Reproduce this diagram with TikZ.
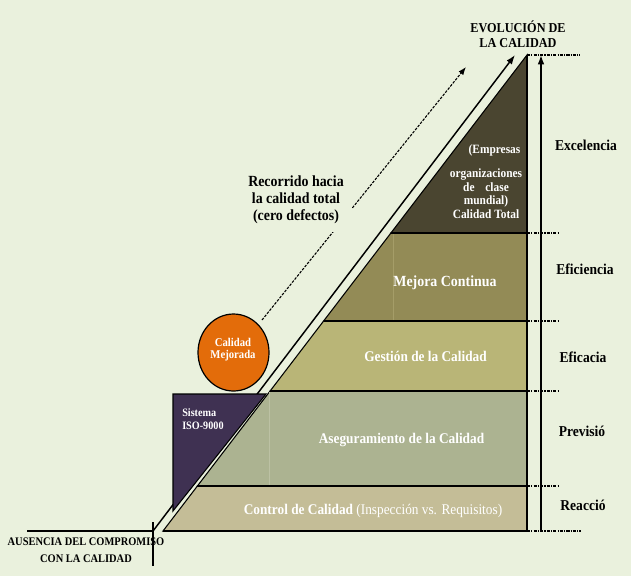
\documentclass[tikz,border=0pt]{standalone}
\usepackage{fontspec}
\setmainfont{Liberation Serif}[FakeStretch=0.9]
\usetikzlibrary{arrows.meta,shapes.geometric}
\definecolor{bg}{HTML}{EAF1DD}
\definecolor{cControl}{HTML}{C4BD97}
\definecolor{cAseg}{HTML}{ACB391}
\definecolor{cGest}{HTML}{B9B577}
\definecolor{cMejora}{HTML}{938B56}
\definecolor{cExcel}{HTML}{4A4530}
\definecolor{cIso}{HTML}{3F3152}
\definecolor{cOrange}{HTML}{E36C0A}
\definecolor{cSeamA}{HTML}{BCC1A4}
\definecolor{cSeamM}{HTML}{A59D68}
\begin{document}
\begin{tikzpicture}[x=0.75pt,y=-0.75pt,
  layer/.style={draw=black,line width=0.8pt},
  wtext/.style={text=white,inner sep=0pt},
  btext/.style={text=black,inner sep=0pt},
  ticks/.style={line width=0.9pt,dash pattern=on 2.5pt off 0.8pt on 0.8pt off 0.8pt},
  arr/.style={line width=1.1pt,-{Latex[length=7pt,width=5pt]}},
  dasharr/.style={line width=0.8pt,dash pattern=on 2pt off 1pt,-{Latex[length=6pt,width=4.5pt]}}
]
\fill[bg] (0,0) rectangle (631,576);
\useasboundingbox (0,0) rectangle (631,576);

% dashed route arrow
\coordinate (dA) at (262,320);
\coordinate (dB) at (466,67);
\draw[dasharr] (dA) -- (dB);
\node[btext,fill=bg,minimum width=84pt,minimum height=48pt,align=center,
      font=\bfseries\fontsize{11.6}{12.75}\selectfont] (rec) at (296,200)
      {Recorrido hacia\\la calidad total\\(cero defectos)};

% solid diagonal arrow
\coordinate (o) at (153,531);
\coordinate (tipS) at (515,55);
\draw[arr] (o) -- (tipS);

% pyramid layers
\path[fill=cControl,layer] (163,531) -- (527,531) -- (527,486) -- (197.4,486) -- cycle;
\path[fill=cAseg,layer] (197.4,486) -- (527,486) -- (527,391) -- (270.1,391) -- cycle;
\path[fill=cGest,layer] (270.1,391) -- (527,391) -- (527,321) -- (323.6,321) -- cycle;
\path[fill=cMejora,layer] (323.6,321) -- (527,321) -- (527,233) -- (390.9,233) -- cycle;
\path[fill=cExcel,layer] (390.9,233) -- (527,233) -- (527,55) -- cycle;
\draw[cSeamA,line width=0.6pt] (269,392) -- (269,485);
\draw[cSeamM,line width=0.6pt] (393,234) -- (393,320);
\draw[line width=1.2pt] (197.4,486) -- (527,486);
\draw[line width=1.2pt] (270.1,391) -- (527,391);
\draw[line width=1.2pt] (323.6,321) -- (527,321);
\draw[line width=1.2pt] (390.9,233) -- (527,233);
\draw[line width=1.2pt] (163,531) -- (527,531);
\draw[line width=1.6pt] (527,531.5) -- (527,55);

% ISO triangle
\path[fill=cIso,draw=black,line width=0.8pt] (173,394) -- (266,394) -- (173,511) -- cycle;
\node[wtext,anchor=west,align=left,font=\bfseries\fontsize{8.5}{9.75}\selectfont] (iso) at (182,419.5) {Sistema\\ISO-9000};

% orange circle
\node[ellipse,draw=black,line width=0.9pt,fill=cOrange,minimum width=53.25pt,minimum height=57.75pt,inner sep=0pt] (circ) at (233.5,352.5) {};
\node[wtext,align=center,font=\bfseries\fontsize{8.9}{9.4}\selectfont] (cm) at (233,349.5) {Calidad\\Mejorada};

% layer texts
\node[wtext,font=\bfseries\fontsize{9.5}{10}\selectfont] (e1) at (494.5,150) {(Empresas};
\node[wtext,align=center,font=\bfseries\fontsize{9.5}{10.1}\selectfont] (e2) at (486,193.5) {organizaciones\\de\hspace{6pt} clase\\mundial)\\Calidad Total};
\node[wtext,font=\bfseries\fontsize{11.6}{12}\selectfont] (mc) at (445,283) {Mejora Continua};
\node[wtext,font=\bfseries\fontsize{11.1}{12}\selectfont] (gc) at (425.5,356) {Gestión de la Calidad};
\node[wtext,font=\bfseries\fontsize{11.1}{12}\selectfont] (ac) at (401.5,440) {Aseguramiento de la Calidad};
\node[wtext,font=\fontsize{11.1}{12}\selectfont] (cc) at (373,511) {\textbf{Control de Calidad} (Inspección vs. Requisitos)};

% right vertical arrow and ticks
\coordinate (vB) at (541,531);
\coordinate (vT) at (541,55);
\draw[arr] (vB) -- (vT);
\coordinate (t0a) at (527,55);  \coordinate (t0b) at (580,55);
\coordinate (t1a) at (527,233); \coordinate (t1b) at (558,233);
\coordinate (t2a) at (527,321); \coordinate (t2b) at (558,321);
\coordinate (t3a) at (527,391); \coordinate (t3b) at (558,391);
\coordinate (t4a) at (527,486); \coordinate (t4b) at (558,486);
\coordinate (t5a) at (527,531); \coordinate (t5b) at (581,531);
\draw[ticks] (t0a) -- (t0b);
\draw[ticks] (t1a) -- (t1b);
\draw[ticks] (t2a) -- (t2b);
\draw[ticks] (t3a) -- (t3b);
\draw[ticks] (t4a) -- (t4b);
\draw[ticks] (t5a) -- (t5b);

% right labels
\node[btext,font=\bfseries\fontsize{11.3}{12}\selectfont] (lEx) at (586,145) {Excelencia};
\node[btext,font=\bfseries\fontsize{11.3}{12}\selectfont] (lEf) at (585,269) {Eficiencia};
\node[btext,font=\bfseries\fontsize{11.3}{12}\selectfont] (lEc) at (583,357) {Eficacia};
\node[btext,font=\bfseries\fontsize{11.3}{12}\selectfont] (lPr) at (582,431) {Previsió};
\node[btext,font=\bfseries\fontsize{11.3}{12}\selectfont] (lRe) at (583,505) {Reacció};

% title
\node[btext,align=center,font=\bfseries\fontsize{10.2}{11.25}\selectfont] (title) at (518,34.5) {EVOLUCIÓN DE\\LA CALIDAD};

% axes at bottom left
\coordinate (hL) at (27,531);
\coordinate (vD) at (153,566);
\coordinate (vU) at (153,522);
\draw[line width=1.5pt] (hL) -- (o);
\draw[line width=1pt] (vU) -- (vD);
\node[btext,align=center,font=\bfseries\fontsize{8.7}{12.75}\selectfont] (aus) at (86,550.5) {AUSENCIA DEL COMPROMISO\\CON LA CALIDAD};
\end{tikzpicture}
\end{document}
